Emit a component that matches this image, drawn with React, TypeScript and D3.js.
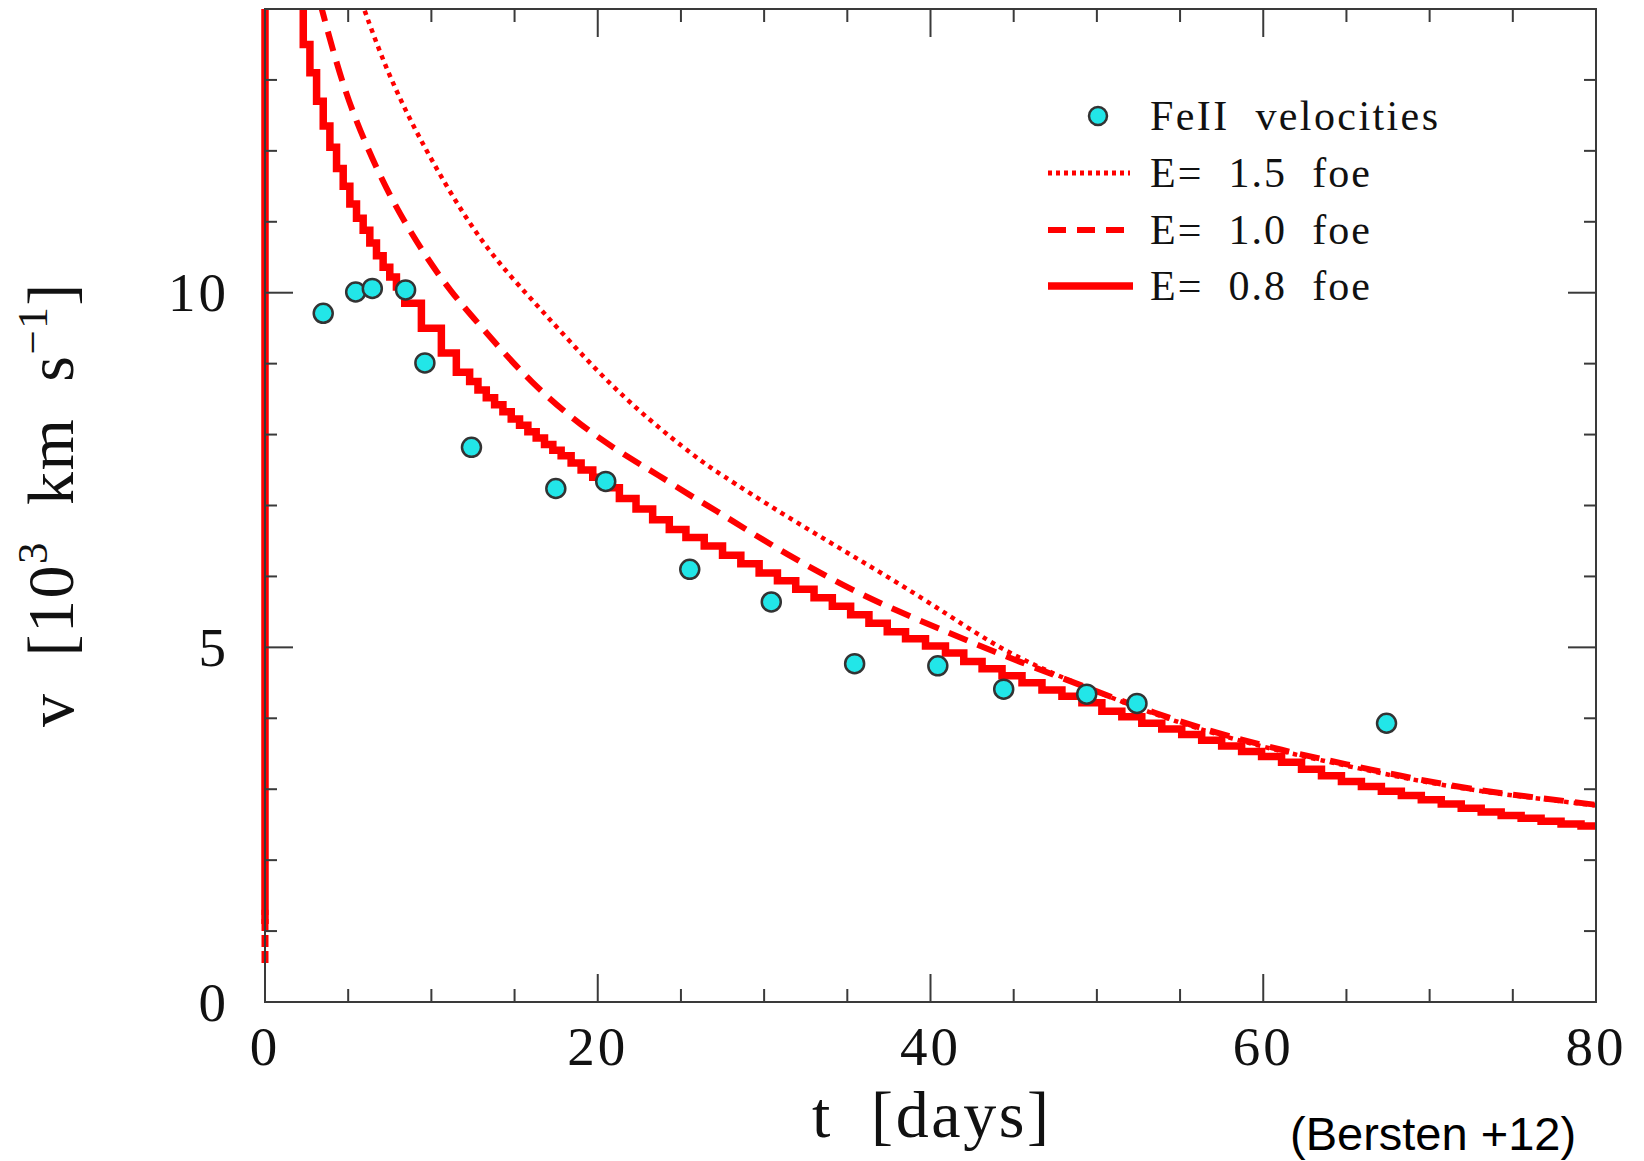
import React from "react";
import * as d3 from "d3";

// ---- data ----
const feT = [3.5, 5.45, 6.45, 8.45, 9.61, 12.41, 17.48, 20.48, 25.53, 30.43, 35.44, 40.44, 44.4, 49.39, 52.41, 67.41];
const feV = [9.71, 10.01, 10.06, 10.04, 9.01, 7.82, 7.24, 7.34, 6.10, 5.64, 4.77, 4.74, 4.41, 4.34, 4.21, 3.93];

// E = 0.8 foe (stepped model curve): step start times and values
const solidT = [0, 0, 2.0, 2.3, 2.7, 3.1, 3.5, 3.9, 4.3, 4.7, 5.1, 5.5, 5.9, 6.3, 6.7, 7.1, 7.5, 7.9, 8.4, 9.4, 10.6, 11.5, 12.3, 12.8, 13.3, 13.8, 14.3, 14.8, 15.3, 15.8, 16.3, 16.8, 17.3, 17.8, 18.4, 19.0, 19.7, 20.6, 21.3, 22.3, 23.3, 24.3, 25.3, 26.4, 27.5, 28.6, 29.7, 30.8, 31.9, 33.0, 34.1, 35.2, 36.3, 37.4, 38.5, 39.7, 40.9, 42.0, 43.1, 44.3, 45.5, 46.7, 47.9, 49.1, 50.3, 51.5, 52.7, 53.9, 55.1, 56.3, 57.5, 58.7, 59.9, 61.1, 62.3, 63.5, 64.7, 65.9, 67.1, 68.3, 69.5, 70.7, 71.9, 73.1, 74.3, 75.5, 76.7, 77.9, 79.1, 80];
const solidV = [1.1, 14.6, 14.3, 13.5, 13.1, 12.7, 12.35, 12.05, 11.75, 11.5, 11.25, 11.05, 10.88, 10.7, 10.52, 10.36, 10.22, 10.08, 9.85, 9.50, 9.15, 8.88, 8.75, 8.63, 8.52, 8.42, 8.32, 8.22, 8.13, 8.04, 7.95, 7.86, 7.78, 7.70, 7.60, 7.50, 7.40, 7.25, 7.10, 6.95, 6.80, 6.66, 6.55, 6.43, 6.30, 6.18, 6.05, 5.94, 5.82, 5.70, 5.58, 5.46, 5.34, 5.22, 5.12, 5.02, 4.92, 4.80, 4.70, 4.60, 4.50, 4.40, 4.31, 4.22, 4.10, 4.02, 3.93, 3.85, 3.77, 3.69, 3.61, 3.53, 3.46, 3.38, 3.28, 3.19, 3.11, 3.04, 2.97, 2.91, 2.85, 2.79, 2.73, 2.68, 2.63, 2.59, 2.55, 2.51, 2.48, 2.46];

// E = 1.0 foe
const dashT = [3.3, 4.6, 6.0, 7.6, 9.4, 11.2, 13.0, 14.1, 16.0, 18.1, 20.0, 22.1, 23.5, 25.7, 27.1, 29.0, 31.1, 35.1, 39.1, 43.1, 45.1, 49.1, 53.1, 57.2, 61.1, 65.0, 69.0, 73.0, 76.5, 80];
const dashV = [14.1, 12.96, 12.11, 11.31, 10.6, 10.0, 9.52, 9.22, 8.74, 8.30, 7.96, 7.64, 7.45, 7.12, 6.93, 6.65, 6.35, 5.82, 5.40, 5.01, 4.82, 4.46, 4.10, 3.79, 3.55, 3.35, 3.15, 2.98, 2.88, 2.78];

// E = 1.5 foe
const dotT = [5.8, 7.0, 8.4, 10.0, 12.0, 14.0, 16.6, 20.1, 23.1, 25.9, 27.1, 31.1, 35.1, 39.1, 43.1, 45.1, 47.0, 49.1, 53.1, 57.2, 61.1, 65.0, 69.0, 73.0, 76.5, 80];
const dotV = [14.1, 13.32, 12.58, 11.87, 11.07, 10.42, 9.76, 8.85, 8.20, 7.68, 7.48, 6.88, 6.32, 5.76, 5.14, 4.88, 4.67, 4.46, 4.08, 3.77, 3.53, 3.33, 3.13, 2.97, 2.87, 2.77];

// early vertical segment of the broken curves at t = 0
const zeroT = [0, 0];
const zeroV = [0.55, 1.3];

const xMajor = [0, 20, 40, 60, 80];
const yMajor = [0, 5, 10];
const legendLabels = ["FeII  velocities", "E=  1.5  foe", "E=  1.0  foe", "E=  0.8  foe"];

const RED = "#ff0000";
const AXIS = "#3a3a3a";
const SERIF = "'Liberation Serif', 'Times New Roman', serif";

export default function App() {
  const W = 1644, H = 1161;
  const L = 265, R = 1596, T = 9, B = 1002;
  const x = d3.scaleLinear().domain([0, 80]).range([L, R]);
  const y = d3.scaleLinear().domain([0, 14]).range([B, T]);

  const toPts = (ts: number[], vs: number[]) => ts.map((t, i) => [t, vs[i]] as [number, number]);
  const stepLine = d3.line<[number, number]>().x(d => x(d[0])).y(d => y(d[1])).curve(d3.curveStepAfter);
  const smoothLine = d3.line<[number, number]>().x(d => x(d[0])).y(d => y(d[1])).curve(d3.curveBasis);
  const straight = d3.line<[number, number]>().x(d => x(d[0])).y(d => y(d[1]));

  const xMinor = d3.range(0, 81, 5);
  const yMinor = d3.range(0, 15, 1);

  const tickLines: JSX.Element[] = [];
  xMinor.forEach((t) => {
    const len = xMajor.includes(t) ? 28 : 13;
    tickLines.push(<line key={"xb" + t} x1={x(t)} x2={x(t)} y1={B} y2={B - len} />);
    tickLines.push(<line key={"xt" + t} x1={x(t)} x2={x(t)} y1={T} y2={T + len} />);
  });
  yMinor.forEach((v) => {
    const len = yMajor.includes(v) ? 28 : 12;
    tickLines.push(<line key={"yl" + v} x1={L} x2={L + len} y1={y(v)} y2={y(v)} />);
    tickLines.push(<line key={"yr" + v} x1={R} x2={R - len} y1={y(v)} y2={y(v)} />);
  });

  const legX0 = 1048, legX1 = 1130, legTextX = 1150;
  const legRows = [116, 173, 230, 286];

  return (
    <div style={{ position: "absolute", left: 0, top: 0 }}>
      <svg width={W} height={H} viewBox={`0 0 ${W} ${H}`} style={{ display: "block", background: "#fff" }}>
        <defs>
          <clipPath id="plot">
            <rect x={L - 5} y={T} width={R - L + 5} height={B - T} />
          </clipPath>
        </defs>
        <rect x={0} y={0} width={W} height={H} fill="#fff" />

        {/* curves */}
        <g clipPath="url(#plot)" fill="none" stroke={RED}>
          <path d={straight(toPts(zeroT, zeroV)) || ""} strokeWidth={7} strokeDasharray="12 4" />
          <path d={smoothLine(toPts(dotT, dotV)) || ""} strokeWidth={4.5} strokeDasharray="4.5 5" />
          <path d={smoothLine(toPts(dashT, dashV)) || ""} strokeWidth={6} strokeDasharray="20 11" />
          <path d={stepLine(toPts(solidT, solidV)) || ""} strokeWidth={7.5} strokeLinejoin="miter" />
        </g>

        {/* frame and ticks */}
        <rect x={L} y={T} width={R - L} height={B - T} fill="none" stroke={AXIS} strokeWidth={2} />
        <g stroke={AXIS} strokeWidth={2}>{tickLines}</g>

        {/* data points */}
        <g>
          {feT.map((t, i) => (
            <circle key={i} cx={x(t)} cy={y(feV[i])} r={9.5} fill="#22e6e8" stroke="#333" strokeWidth={2.5} />
          ))}
        </g>

        {/* tick labels */}
        <g fontFamily={SERIF} fontSize={55} fill="#111">
          {xMajor.map((t) => (
            <text key={"xl" + t} x={x(t)} y={1065} textAnchor="middle" letterSpacing={3}>{t}</text>
          ))}
          {yMajor.map((v) => (
            <text key={"yl" + v} x={229} y={y(v) + 18.6} textAnchor="end" letterSpacing={3}>{v}</text>
          ))}
        </g>

        {/* axis titles */}
        <text x={812} y={1137} fontFamily={SERIF} fontSize={66} fill="#111" textLength={237} lengthAdjust="spacing" style={{ whiteSpace: "pre" }}>
          {"t  [days]"}
        </text>
        <g transform="translate(73,727) rotate(-90)">
          <text x={0} y={0} fontFamily={SERIF} fontSize={66} fill="#111" style={{ whiteSpace: "pre" }} letterSpacing={1.5}>
            {"v  [10"}
            <tspan fontSize={43} dy={-26}>3</tspan>
            <tspan dy={26}>{"  km  s"}</tspan>
            <tspan fontSize={43} dy={-26}>{"\u22121"}</tspan>
            <tspan dy={26}>]</tspan>
          </text>
        </g>

        {/* legend */}
        <g>
          <circle cx={1098} cy={legRows[0]} r={9} fill="#22e6e8" stroke="#333" strokeWidth={2.5} />
          <line x1={legX0} x2={legX1} y1={legRows[1]} y2={legRows[1]} stroke={RED} strokeWidth={5} strokeDasharray="4 4" />
          <line x1={legX0} x2={legX1 - 5} y1={legRows[2]} y2={legRows[2]} stroke={RED} strokeWidth={6} strokeDasharray="18 11" />
          <line x1={legX0} x2={legX1 + 3} y1={legRows[3]} y2={legRows[3]} stroke={RED} strokeWidth={7.5} />
          {legendLabels.map((s, i) => (
            <text key={s} x={legTextX} y={legRows[i] + 13.5} fontFamily={SERIF} fontSize={42} fill="#111"
              textLength={i === 0 ? 288 : 220} lengthAdjust="spacing" style={{ whiteSpace: "pre" }}>
              {s}
            </text>
          ))}
        </g>

        {/* citation */}
        <text x={1290} y={1150} fontFamily="'Liberation Sans', Arial, sans-serif" fontSize={47} fill="#000">
          (Bersten +12)
        </text>
      </svg>
    </div>
  );
}
